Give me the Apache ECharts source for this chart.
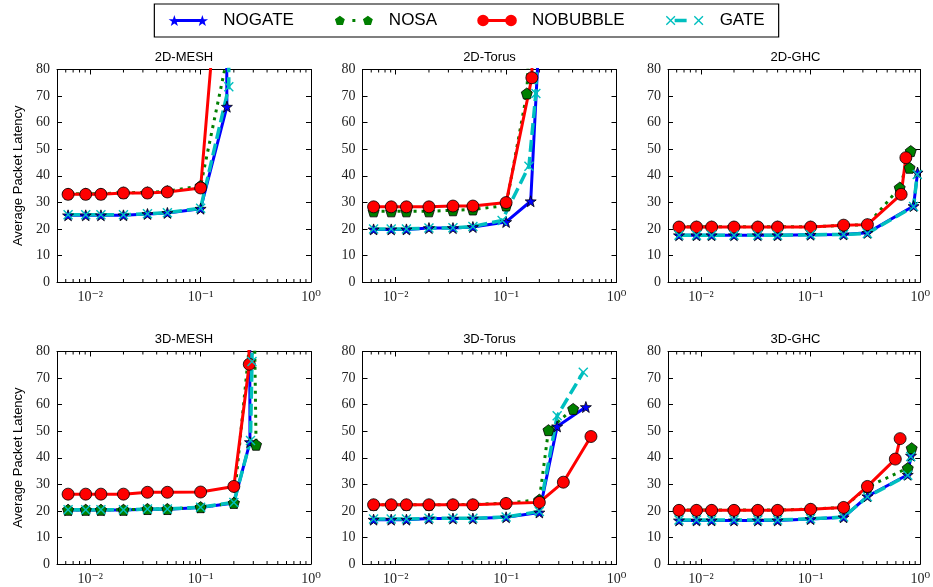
<!DOCTYPE html>
<html>
<head>
<meta charset="utf-8">
<script src="https://cdn.jsdelivr.net/npm/echarts@6/dist/echarts.min.js"></script>
<style>
html,body{margin:0;padding:0;background:#fff;}
#chart{width:933px;height:587px;}
</style>
</head>
<body>
<div id="chart"></div>
<script>
// ---------- DATA ----------
const seriesNames = ['NOGATE', 'NOSA', 'NOBUBBLE', 'GATE'];
const panelTitles = ['2D-MESH', '2D-Torus', '2D-GHC', '3D-MESH', '3D-Torus', '3D-GHC'];
const yTicks = [0, 10, 20, 30, 40, 50, 60, 70, 80];
const xTickLabels = { '-2': '10⁻²', '-1': '10⁻¹', '0': '10⁰' };
const minorTicks = [0.006, 0.007, 0.008, 0.009, 0.02, 0.03, 0.04, 0.05, 0.06, 0.07, 0.08, 0.09,
                    0.2, 0.3, 0.4, 0.5, 0.6, 0.7, 0.8, 0.9];

// 2D-MESH
const mesh2d_nogate   = [[0.0063,25.1],[0.0091,25.1],[0.0125,25.1],[0.02,25.1],[0.033,25.6],[0.05,26.0],[0.1,27.6],[0.173,66.0],[0.168,200]];
const mesh2d_nosa     = [[0.0063,33.2],[0.0091,33.2],[0.0125,33.2],[0.02,33.6],[0.033,33.7],[0.05,34.2],[0.1,36.2],[0.175,85]];
const mesh2d_nobubble = [[0.0063,33.0],[0.0091,33.0],[0.0125,33.0],[0.02,33.5],[0.033,33.5],[0.05,33.9],[0.1,35.4],[0.17,150]];
const mesh2d_gate     = [[0.0063,25.3],[0.0091,25.3],[0.0125,25.3],[0.02,25.3],[0.033,25.7],[0.05,26.1],[0.1,27.8],[0.18,73.5],[0.178,150]];
// 2D-Torus
const torus2d_nogate   = [[0.0063,19.8],[0.0091,19.8],[0.0125,19.8],[0.02,20.3],[0.033,20.3],[0.05,20.7],[0.1,22.6],[0.167,30.4],[0.2,94]];
const torus2d_nosa     = [[0.0063,26.6],[0.0091,26.6],[0.0125,26.6],[0.02,26.6],[0.033,27.0],[0.05,27.3],[0.1,28.8],[0.154,71.0],[0.165,100]];
const torus2d_nobubble = [[0.0063,28.3],[0.0091,28.3],[0.0125,28.3],[0.02,28.3],[0.033,28.6],[0.05,28.6],[0.1,29.9],[0.171,76.9],[0.175,100]];
const torus2d_gate     = [[0.0063,20.0],[0.0091,20.0],[0.0125,20.0],[0.02,20.3],[0.033,20.4],[0.05,20.9],[0.092,23.2],[0.161,43.6],[0.186,71.0],[0.19,100]];
// 2D-GHC
const ghc2d_nogate   = [[0.0063,17.6],[0.0091,17.6],[0.0125,17.6],[0.02,17.6],[0.033,17.6],[0.05,17.6],[0.1,17.8],[0.2,17.9],[0.33,18.5],[0.87,28.6],[0.946,41.2]];
const ghc2d_nosa     = [[0.0063,20.8],[0.0091,20.8],[0.0125,20.8],[0.02,20.8],[0.033,20.8],[0.05,20.8],[0.1,20.8],[0.2,21.3],[0.33,21.6],[0.65,35.5],[0.82,49.3],[0.80,43.0]];
const ghc2d_nobubble = [[0.0063,20.7],[0.0091,20.7],[0.0125,20.7],[0.02,20.7],[0.033,20.7],[0.05,20.7],[0.1,20.7],[0.2,21.4],[0.33,21.6],[0.67,33.0],[0.74,46.8]];
const ghc2d_gate     = [[0.0063,17.6],[0.0091,17.6],[0.0125,17.6],[0.02,17.6],[0.033,17.6],[0.05,17.6],[0.1,17.8],[0.2,17.9],[0.33,18.3],[0.87,28.4],[0.94,40.5]];
// 3D-MESH
const mesh3d_nogate   = [[0.0063,20.3],[0.0091,20.3],[0.0125,20.3],[0.02,20.3],[0.033,20.6],[0.05,20.6],[0.1,21.3],[0.2,23.0],[0.28,45.9],[0.278,100]];
const mesh3d_nosa     = [[0.0063,20.4],[0.0091,20.4],[0.0125,20.4],[0.02,20.4],[0.033,20.7],[0.05,20.7],[0.1,21.4],[0.2,23.0],[0.305,100],[0.318,44.9]];
const mesh3d_nobubble = [[0.0063,26.3],[0.0091,26.3],[0.0125,26.3],[0.02,26.3],[0.033,27.0],[0.05,27.0],[0.1,27.1],[0.2,29.2],[0.276,75.2],[0.27,90]];
const mesh3d_gate     = [[0.0063,20.4],[0.0091,20.4],[0.0125,20.4],[0.02,20.4],[0.033,20.7],[0.05,20.7],[0.1,21.4],[0.2,23.2],[0.283,46.5],[0.292,76.2],[0.295,100]];
// 3D-Torus
const torus3d_nogate   = [[0.0063,16.7],[0.0091,16.7],[0.0125,16.7],[0.02,17.1],[0.033,17.1],[0.05,17.1],[0.1,17.6],[0.2,19.4],[0.29,51.8],[0.528,59.1]];
const torus3d_nosa     = [[0.0063,22.3],[0.0091,22.3],[0.0125,22.3],[0.02,22.3],[0.033,22.4],[0.05,22.4],[0.1,22.9],[0.2,24.2],[0.242,50.4],[0.405,58.4]];
const torus3d_nobubble = [[0.0063,22.3],[0.0091,22.3],[0.0125,22.3],[0.02,22.3],[0.033,22.3],[0.05,22.3],[0.1,22.8],[0.2,23.2],[0.33,30.8],[0.587,48.0]];
const torus3d_gate     = [[0.0063,16.9],[0.0091,16.9],[0.0125,16.9],[0.02,17.2],[0.033,17.2],[0.05,17.2],[0.1,17.7],[0.2,19.8],[0.29,55.8],[0.50,72.2]];
// 3D-GHC
const ghc3d_nogate   = [[0.0063,16.4],[0.0091,16.4],[0.0125,16.4],[0.02,16.4],[0.033,16.4],[0.05,16.4],[0.1,16.9],[0.2,17.6],[0.33,25.5],[0.77,33.6],[0.824,40.8]];
const ghc3d_nosa     = [[0.0063,20.3],[0.0091,20.3],[0.0125,20.3],[0.02,20.3],[0.033,20.3],[0.05,20.3],[0.1,20.7],[0.2,21.3],[0.33,29.0],[0.77,36.1],[0.836,43.6]];
const ghc3d_nobubble = [[0.0063,20.2],[0.0091,20.2],[0.0125,20.2],[0.02,20.2],[0.033,20.2],[0.05,20.2],[0.1,20.6],[0.2,21.3],[0.33,29.2],[0.593,39.5],[0.656,47.2]];
const ghc3d_gate     = [[0.0063,16.6],[0.0091,16.6],[0.0125,16.6],[0.02,16.6],[0.033,16.6],[0.05,16.6],[0.1,17.0],[0.2,17.7],[0.33,25.3],[0.77,33.4],[0.82,40.5]];

const panelData = [
  [mesh2d_nogate, mesh2d_nosa, mesh2d_nobubble, mesh2d_gate],
  [torus2d_nogate, torus2d_nosa, torus2d_nobubble, torus2d_gate],
  [ghc2d_nogate, ghc2d_nosa, ghc2d_nobubble, ghc2d_gate],
  [mesh3d_nogate, mesh3d_nosa, mesh3d_nobubble, mesh3d_gate],
  [torus3d_nogate, torus3d_nosa, torus3d_nobubble, torus3d_gate],
  [ghc3d_nogate, ghc3d_nosa, ghc3d_nobubble, ghc3d_gate]
];

// ---------- STYLE / LAYOUT ----------
const X_MIN = 0.005, X_MAX = 1, Y_MIN = 0, Y_MAX = 80, Y_INT = 10;
const colLeft = [57, 362.5, 668];
const colWidth = [254, 254, 255];
const rowTop = [69.5, 351.5];
const rowHeight = 212.5;

const STAR = 'path://M0,-10 L2.35,-3.24 L9.51,-3.09 L3.8,1.24 L5.88,8.09 L0,4 L-5.88,8.09 L-3.8,1.24 L-9.51,-3.09 L-2.35,-3.24 Z';
const PENT = 'path://M0,-10 L9.51,-3.09 L5.88,8.09 L-5.88,8.09 L-9.51,-3.09 Z';
const XMARK = 'path://M-10,-8 L-8,-10 L0,-2 L8,-10 L10,-8 L2,0 L10,8 L8,10 L0,2 L-8,10 L-10,8 L-2,0 Z';

// legend icons (line sample with a marker at each end), box 0..40 x 0..14
function polyAt(pts, cx, cy, r) {
  return 'M' + pts.map(p => (cx + p[0] * r).toFixed(2) + ',' + (cy + p[1] * r).toFixed(2)).join(' L') + ' Z ';
}
const starPts = [[0,-1],[0.235,-0.324],[0.951,-0.309],[0.38,0.124],[0.588,0.809],[0,0.4],[-0.588,0.809],[-0.38,0.124],[-0.951,-0.309],[-0.235,-0.324]];
const pentPts = [[0,-1],[0.951,-0.309],[0.588,0.809],[-0.588,0.809],[-0.951,-0.309]];
const xPts = [[-1,-0.8],[-0.8,-1],[0,-0.2],[0.8,-1],[1,-0.8],[0.2,0],[1,0.8],[0.8,1],[0,0.2],[-0.8,1],[-1,0.8],[-0.2,0]];
function circleAt(cx, cy, r) {
  return 'M' + (cx - r) + ',' + cy + ' A' + r + ',' + r + ' 0 1,1 ' + (cx + r) + ',' + cy + ' A' + r + ',' + r + ' 0 1,1 ' + (cx - r) + ',' + cy + ' Z ';
}
function rect(x1, y1, x2, y2) { return 'M' + x1 + ',' + y1 + ' L' + x2 + ',' + y1 + ' L' + x2 + ',' + y2 + ' L' + x1 + ',' + y2 + ' Z '; }
const legendIcons = [
  'path://' + rect(0, 0, 0.01, 0.01) + rect(6, 5.6, 34, 8.4) + polyAt(starPts, 6, 7.6, 6) + polyAt(starPts, 34, 7.6, 6) + rect(39.99, 13.99, 40, 14),
  'path://' + rect(0, 0, 0.01, 0.01) + rect(18.5, 5.6, 21.5, 8.4) + polyAt(pentPts, 6, 7.4, 5.2) + polyAt(pentPts, 34, 7.4, 5.2) + rect(39.99, 13.99, 40, 14),
  'path://' + rect(0, 0, 0.01, 0.01) + rect(11.5, 5.6, 28.5, 8.4) + circleAt(6, 7, 5.8) + circleAt(34, 7, 5.8) + rect(39.99, 13.99, 40, 14),
  'path://' + rect(0, 0, 0.01, 0.01) + rect(10, 5.3, 22, 8.7) + polyAt(xPts, 6, 7, 4.8) + polyAt(xPts, 34, 7, 4.8) + rect(39.99, 13.99, 40, 14)
];

const seriesStyles = [
  { color: '#0000ff', lineStyle: { width: 3, type: 'solid' }, symbol: STAR, symbolSize: 11, border: '#000', bw: 0.8 },
  { color: '#007f00', lineStyle: { width: 3, type: [3, 5] }, symbol: PENT, symbolSize: 11, border: '#000', bw: 0.8 },
  { color: '#ff0000', lineStyle: { width: 3, type: 'solid' }, symbol: 'circle', symbolSize: 12, border: '#000', bw: 0.8 },
  { color: '#00bfbf', lineStyle: { width: 3.5, type: [12, 5] }, symbol: XMARK, symbolSize: 10, border: '#00bfbf', bw: 0 }
];

const labelFont = 'Liberation Serif, DejaVu Serif, serif';
const sansFont = 'Liberation Sans, Arial, sans-serif';

const grids = [], xAxes = [], yAxes = [], series = [], titles = [];

for (let p = 0; p < 6; p++) {
  const r = Math.floor(p / 3), c = p % 3;
  grids.push({ left: colLeft[c], top: rowTop[r], width: colWidth[c], height: rowHeight,
               show: false, containLabel: false });
  titles.push({ text: panelTitles[p], left: colLeft[c] + colWidth[c] / 2, top: rowTop[r] - 19,
                textAlign: 'center', padding: 0,
                textStyle: { fontFamily: sansFont, fontSize: 13, fontWeight: 'normal', color: '#000' } });
  xAxes.push({ type: 'log', logBase: 10, gridIndex: p, min: X_MIN, max: X_MAX, position: 'bottom',
    axisLine: { show: true, onZero: false, lineStyle: { color: '#000', width: 1 } },
    axisTick: { show: true, inside: true, length: 5, lineStyle: { color: '#000' } },
    splitLine: { show: false }, minorTick: { show: false },
    axisLabel: { show: true, margin: 8, interval: 0, showMinLabel: false, showMaxLabel: true,
      fontFamily: labelFont, fontSize: 14, color: '#222',
      formatter: function (v) { const e = Math.round(Math.log10(v)); return xTickLabels[String(e)] || ''; } }
  });
  xAxes.push({ type: 'log', logBase: 10, gridIndex: p, min: X_MIN, max: X_MAX, position: 'top',
    axisLine: { show: true, onZero: false, lineStyle: { color: '#000', width: 1 } },
    axisTick: { show: true, inside: true, length: 5, lineStyle: { color: '#000' } },
    splitLine: { show: false }, axisLabel: { show: false }
  });
  yAxes.push({ type: 'value', gridIndex: p, min: Y_MIN, max: Y_MAX, interval: Y_INT, position: 'left',
    name: c === 0 ? 'Average Packet Latency' : '', nameLocation: 'middle', nameGap: 32, nameRotate: 90,
    nameTextStyle: { fontFamily: sansFont, fontSize: 13, color: '#000' },
    axisLine: { show: true, onZero: false, lineStyle: { color: '#000', width: 1 } },
    axisTick: { show: true, inside: true, length: 5, lineStyle: { color: '#000' } },
    splitLine: { show: false },
    axisLabel: { show: true, margin: 7, fontFamily: labelFont, fontSize: 14, color: '#222' }
  });
  yAxes.push({ type: 'value', gridIndex: p, min: Y_MIN, max: Y_MAX, interval: Y_INT, position: 'right',
    axisLine: { show: true, onZero: false, lineStyle: { color: '#000', width: 1 } },
    axisTick: { show: true, inside: true, length: 5, lineStyle: { color: '#000' } },
    splitLine: { show: false }, axisLabel: { show: false }
  });
  series.push({ type: 'custom', xAxisIndex: 2 * p, yAxisIndex: 2 * p, silent: true, clip: false,
    data: minorTicks.map(v => [v, Y_MIN]),
    renderItem: function (params, api) {
      const b = api.coord([api.value(0), Y_MIN]);
      const t = api.coord([api.value(0), Y_MAX]);
      return { type: 'group', children: [
        { type: 'line', shape: { x1: b[0], y1: b[1], x2: b[0], y2: b[1] - 3 }, style: { stroke: '#000', lineWidth: 1 } },
        { type: 'line', shape: { x1: t[0], y1: t[1], x2: t[0], y2: t[1] + 3 }, style: { stroke: '#000', lineWidth: 1 } }
      ] };
    }
  });
  for (let s = 0; s < 4; s++) {
    const st = seriesStyles[s];
    series.push({
      name: seriesNames[s], type: 'line', xAxisIndex: 2 * p, yAxisIndex: 2 * p,
      data: panelData[p][s], clip: true, smooth: false,
      symbol: st.symbol, symbolSize: st.symbolSize, showSymbol: true,
      lineStyle: { color: st.color, width: st.lineStyle.width, type: st.lineStyle.type },
      itemStyle: { color: st.color, borderColor: st.border, borderWidth: st.bw },
      emphasis: { disabled: true }, z: 3
    });
  }
}

const chart = echarts.init(document.getElementById('chart'), null, { renderer: 'canvas' });
chart.setOption({
  animation: false,
  backgroundColor: '#fff',
  title: titles,
  legend: {
    data: seriesNames.map((n, i) => ({ name: n, icon: legendIcons[i],
      itemStyle: { color: seriesStyles[i].color, borderWidth: 0 } })),
    top: 4, left: 'center',
    borderColor: '#000', borderWidth: 1.2, padding: [8, 14],
    itemGap: 40, itemWidth: 40, itemHeight: 14,
    textStyle: { fontFamily: sansFont, fontSize: 17, color: '#000', padding: [0, 0, 0, 10] }
  },
  grid: grids, xAxis: xAxes, yAxis: yAxes, series: series
});
</script>
</body>
</html>
